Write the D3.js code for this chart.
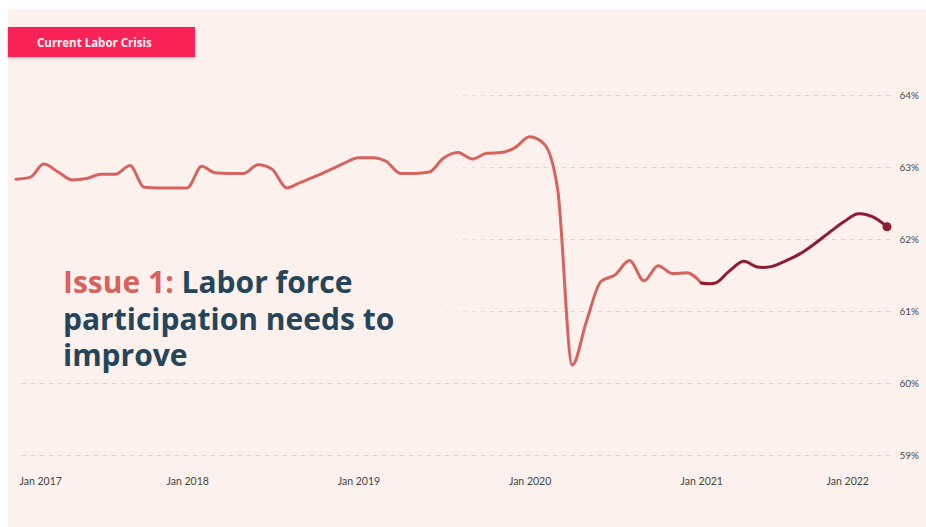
<!DOCTYPE html>
<html>
<head>
<meta charset="utf-8">
<script src="https://cdn.jsdelivr.net/npm/d3@7"></script>
<style>
  html, body { margin: 0; padding: 0; background: #ffffff; }
  svg { display: block; }
</style>
</head>
<body>
<svg id="chart" width="926" height="527"></svg>
<script>
// Labor force participation rate, monthly, Jan 2017 – Feb 2022 (%)
const firstMonth = new Date(2017, 0, 1);
const rate2017 = [62.83, 62.86, 63.04, 62.93, 62.82, 62.84, 62.90, 62.90, 63.02, 62.72, 62.71, 62.71];
const rate2018 = [62.71, 63.01, 62.92, 62.91, 62.91, 63.03, 62.97, 62.71, 62.79, 62.87, 62.96, 63.05];
const rate2019 = [63.13, 63.13, 63.08, 62.91, 62.91, 62.93, 63.12, 63.20, 63.11, 63.19, 63.20, 63.27];
const rate2020 = [63.42, 63.32, 62.68, 60.25, 60.85, 61.41, 61.50, 61.70, 61.42, 61.63, 61.52, 61.53];
const rate2021 = [61.39, 61.39, 61.55, 61.69, 61.61, 61.62, 61.70, 61.80, 61.94, 62.09, 62.24, 62.35];
const rate2022 = [62.31, 62.17];
const highlightFrom = new Date(2021, 0, 1);

const yTicks = [59, 60, 61, 62, 63, 64];
const xTickYears = [2017, 2018, 2019, 2020, 2021, 2022];

const tagText = "Current Labor Crisis";
const headlineLead = "Issue 1:";
const headlineLines = ["Labor force", "participation needs to", "improve"];

const rates = [].concat(rate2017, rate2018, rate2019, rate2020, rate2021, rate2022);
const series = rates.map((v, i) => ({ date: d3.timeMonth.offset(firstMonth, i), value: v }));

const W = 926, H = 527;
const svg = d3.select("#chart");
const bg = "#fcf1ec";

// slide panel
svg.append("rect").attr("x", 8).attr("y", 9).attr("width", W - 8).attr("height", H - 9).attr("fill", bg);

const x = d3.scaleTime()
  .domain([firstMonth, series[series.length - 1].date])
  .range([16, 887]);
const y = d3.scaleLinear().domain([59, 64]).range([455, 95]);

// dashed gridlines
const grid = svg.append("g").attr("class", "grid")
  .attr("transform", "translate(890,0)")
  .call(d3.axisLeft(y).tickValues(yTicks).tickSize(890 - 18).tickFormat(""));
grid.select(".domain").remove();
grid.selectAll("line").attr("stroke", "#d9d2ce").attr("stroke-dasharray", "4,5");

// fade behind the headline block
const defs = svg.append("defs");
const fade = defs.append("linearGradient").attr("id", "fade").attr("x1", 0).attr("x2", 1).attr("y1", 0).attr("y2", 0);
fade.append("stop").attr("offset", "0%").attr("stop-color", bg).attr("stop-opacity", 1);
fade.append("stop").attr("offset", "84%").attr("stop-color", bg).attr("stop-opacity", 1);
fade.append("stop").attr("offset", "100%").attr("stop-color", bg).attr("stop-opacity", 0);
svg.append("rect").attr("x", 8).attr("y", 60).attr("width", 500).attr("height", 318).attr("fill", "url(#fade)");

// y axis labels
const yAxis = svg.append("g")
  .attr("transform", "translate(919,0)")
  .call(d3.axisLeft(y).tickValues(yTicks).tickSize(0).tickPadding(0).tickFormat(d => d + "%"));
yAxis.select(".domain").remove();
yAxis.selectAll("text")
  .attr("font-family", "Lato, sans-serif").attr("font-size", 10).attr("fill", "#4a4a4a");

// x axis labels
const xTicks = xTickYears.map(yr => new Date(yr, 0, 1));
const xAxis = svg.append("g")
  .attr("transform", "translate(0,478)")
  .call(d3.axisBottom(x).tickValues(xTicks).tickSize(0).tickPadding(0).tickFormat(d3.timeFormat("Jan %Y")));
xAxis.select(".domain").remove();
xAxis.selectAll("text")
  .attr("font-family", "Lato, sans-serif").attr("font-size", 10.5).attr("fill", "#444");
xAxis.selectAll(".tick").filter((d, i) => i === 0).select("text").attr("text-anchor", "start").attr("dx", 3);
xAxis.selectAll(".tick").filter((d, i, n) => i === n.length - 1).select("text").attr("text-anchor", "end").attr("dx", -4);

// lines
const line = d3.line().x(d => x(d.date)).y(d => y(d.value)).curve(d3.curveMonotoneX);
const early = series.filter(d => d.date <= highlightFrom);
const recent = series.filter(d => d.date >= highlightFrom);

svg.append("path").datum(early)
  .attr("d", line).attr("fill", "none")
  .attr("stroke", "#d6635d").attr("stroke-width", 3)
  .attr("stroke-linejoin", "round").attr("stroke-linecap", "round");

svg.append("path").datum(recent)
  .attr("d", line.curve(d3.curveCatmullRom.alpha(0.5))).attr("fill", "none")
  .attr("stroke", "#8e1d31").attr("stroke-width", 3)
  .attr("stroke-linejoin", "round").attr("stroke-linecap", "round");

const last = series[series.length - 1];
svg.append("circle").attr("cx", x(last.date)).attr("cy", y(last.value)).attr("r", 4.5).attr("fill", "#8e1d31");

// tag
const shadow = defs.append("filter").attr("id", "shadow").attr("x", "-10%").attr("y", "-30%").attr("width", "120%").attr("height", "170%");
shadow.append("feDropShadow").attr("dx", 0).attr("dy", 1.5).attr("stdDeviation", 1.5).attr("flood-color", "#000").attr("flood-opacity", 0.2);
svg.append("rect").attr("x", 8).attr("y", 27).attr("width", 187).attr("height", 30)
  .attr("fill", "#fa2457").attr("filter", "url(#shadow)");
svg.append("text").attr("x", 37).attr("y", 46.5)
  .attr("font-family", "'Open Sans', sans-serif").attr("font-weight", 700).attr("font-size", 11.5)
  .attr("fill", "#fff3f5").text(tagText);

// headline
const head = svg.append("text")
  .attr("font-family", "'Open Sans', sans-serif").attr("font-weight", 700).attr("font-size", 30)
  .attr("fill", "#25465a");
const l1 = head.append("tspan").attr("x", 63).attr("y", 293);
l1.append("tspan").attr("fill", "#d6635d").text(headlineLead + " ");
l1.append("tspan").text(headlineLines[0]);
head.append("tspan").attr("x", 63).attr("y", 330).text(headlineLines[1]);
head.append("tspan").attr("x", 63).attr("y", 366).text(headlineLines[2]);
</script>
</body>
</html>
